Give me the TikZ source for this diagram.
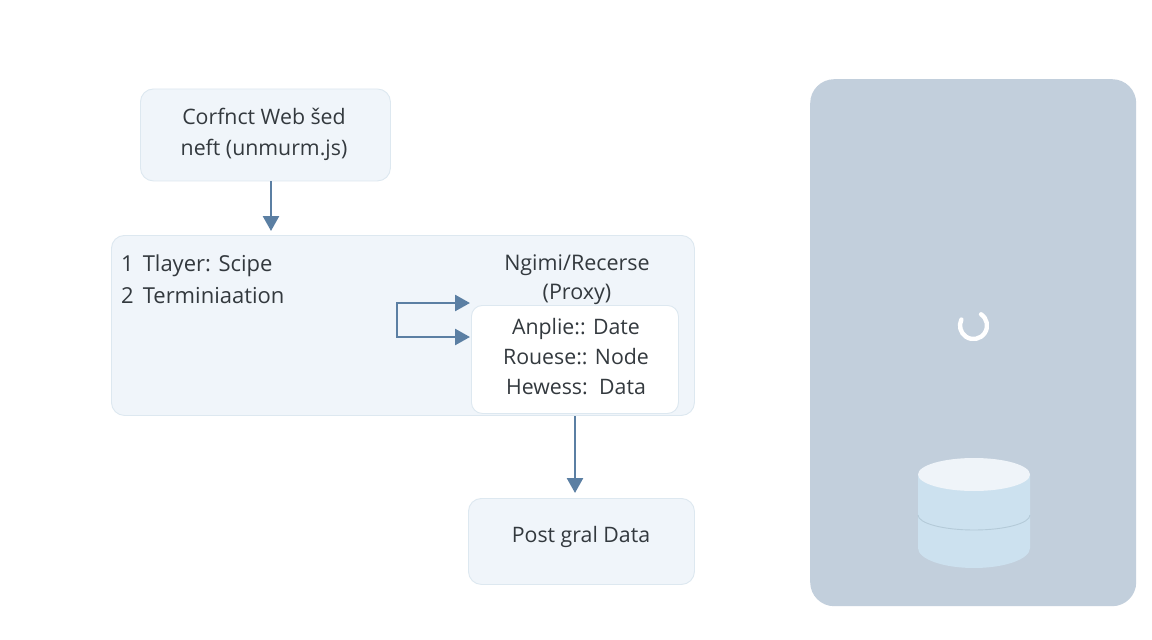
\documentclass[tikz,border=0pt]{standalone}
\usepackage{fontspec}
\setmainfont{Open Sans}
\usetikzlibrary{arrows.meta}
\definecolor{boxfill}{HTML}{F0F5FA}
\definecolor{boxline}{HTML}{DDE8F0}
\definecolor{arrowc}{HTML}{5B7FA3}
\definecolor{panel}{HTML}{C2CFDC}
\definecolor{textc}{HTML}{33393E}
\definecolor{cyl}{HTML}{CCE1EF}
\definecolor{cyltop}{HTML}{EFF4F9}
\definecolor{cylline}{HTML}{B4CAD8}
\tikzset{
  x=1pt,y=-1pt,
  boxstyle/.style={draw=boxline,fill=boxfill,line width=0.9pt,rounded corners=13pt,anchor=north west,inner sep=0pt},
  whitebox/.style={draw=boxline,fill=white,line width=0.9pt,rounded corners=11pt,anchor=north west,inner sep=0pt},
  label/.style={text=textc,font=\fontsize{21.3}{30}\selectfont,align=center,inner sep=0pt},
  leftlabel/.style={text=textc,font=\fontsize{22}{32}\selectfont,align=left,inner sep=0pt,anchor=north west},
  conn/.style={draw=arrowc,line width=2.6pt,-{Triangle[length=15pt,width=16pt]}},
  connb/.style={draw=arrowc,line width=2.6pt,{Triangle[length=15pt,width=16pt]}-{Triangle[length=15pt,width=16pt]}}
}
\begin{document}
\begin{tikzpicture}
\useasboundingbox (0,0) rectangle (1152,640);
\fill[white] (0,0) rectangle (1152,640);
% boxes
\node[boxstyle,minimum width=250pt,minimum height=92pt] (web) at (140,88.5) {};
\node[boxstyle,minimum width=583pt,minimum height=180pt] (layer) at (111,235) {};
\node[whitebox,minimum width=207pt,minimum height=108pt] (inner) at (471,305) {};
\node[boxstyle,minimum width=226pt,minimum height=86pt] (post) at (468,498) {};
\node[draw=none,fill=panel,rounded corners=24pt,anchor=north west,minimum width=326pt,minimum height=527pt,inner sep=0pt] (panelbox) at (810,79) {};
% labels
\node[label,font=\fontsize{21.3}{31}\selectfont] (webt) at (264,134.5) {Corfnct Web šed\\neft (unmurm.js)};
\node[leftlabel] (layert) at (121,255) {1\hspace{9pt}Tlayer: Scipe\\2\hspace{9pt}Terminiaation};
\node[label,font=\fontsize{21.5}{29}\selectfont] (proxyt) at (577,280) {Ngimi/Recerse\\(Proxy)};
\node[label] (innert) at (576,356.5) {Anplie:: Date\\Rouese:: Node\\Hewess:\hspace{4pt} Data};
\node[label] (postt) at (581,537) {Post gral Data};
% connectors
\coordinate (webout) at (271,181);
\coordinate (layerin) at (271,231);
\draw[conn] (webout) -- (layerin);
\coordinate (innerout) at (575,416);
\coordinate (postin) at (575,493);
\draw[conn] (innerout) -- (postin);
\coordinate (loopa) at (470,303);
\coordinate (loopb) at (470,337);
\coordinate (loopc) at (397,303);
\coordinate (loopd) at (397,337);
\draw[connb,line join=miter] (loopa) -- (loopc) -- (loopd) -- (loopb);
% cylinder
\fill[cyl] (918,474.5) -- (918,548) arc[start angle=180,end angle=0,x radius=56,y radius=20] -- (1030,474.5) -- cycle;
\draw[cylline,line width=0.9pt] (918,515) arc[start angle=180,end angle=0,x radius=56,y radius=15];
\fill[cyltop] (974,474.5) ellipse[x radius=56,y radius=16.5];
% spinner
\draw[white,line width=4.4pt,line cap=round] ([shift={(973.5,325.5)}]-56:13.5) arc[start angle=-56,end angle=206,radius=13.5];
\end{tikzpicture}
\end{document}
